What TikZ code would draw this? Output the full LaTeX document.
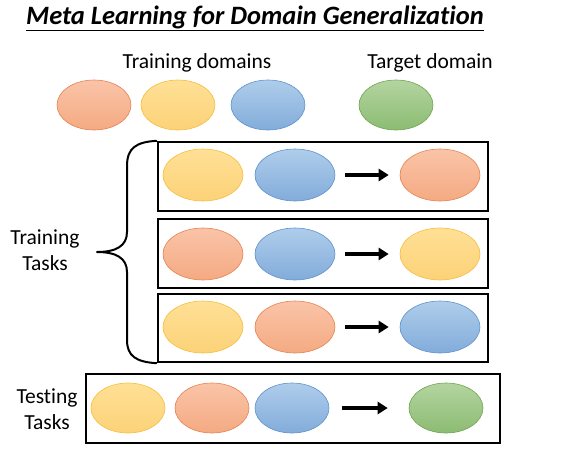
\documentclass[tikz,border=0pt]{standalone}
\usepackage{fontspec}
\setmainfont[Ligatures={NoCommon}]{Carlito}
\usetikzlibrary{shapes.geometric,arrows.meta}
\definecolor{orF1}{RGB}{250,196,168}\definecolor{orF2}{RGB}{244,170,130}\definecolor{orB}{RGB}{230,130,80}
\definecolor{yeF1}{RGB}{255,224,150}\definecolor{yeF2}{RGB}{252,210,120}\definecolor{yeB}{RGB}{245,190,60}
\definecolor{blF1}{RGB}{175,205,235}\definecolor{blF2}{RGB}{130,172,218}\definecolor{blB}{RGB}{95,145,205}
\definecolor{grF1}{RGB}{180,212,160}\definecolor{grF2}{RGB}{140,188,115}\definecolor{grB}{RGB}{110,165,80}
\tikzset{
  dom/.style={ellipse, minimum width=74pt, minimum height=50pt, inner sep=0pt, line width=0.6pt},
  bigdom/.style={dom, minimum width=80pt, minimum height=52pt},
  orD/.style={top color=orF1, bottom color=orF2, draw=orB},
  yeD/.style={top color=yeF1, bottom color=yeF2, draw=yeB},
  blD/.style={top color=blF1, bottom color=blF2, draw=blB},
  grD/.style={top color=grF1, bottom color=grF2, draw=grB},
  taskbox/.style={draw=black, line width=2.4pt, inner sep=0pt},
  arr/.style={-{Triangle[length=10pt,width=12pt]}, line width=3.2pt, shorten <=10pt, shorten >=11pt},
  lbl/.style={font=\fontsize{21.5}{26}\selectfont, align=center},
}
\begin{document}
\begin{tikzpicture}[x=1pt,y=-1pt]
\useasboundingbox (0,0) rectangle (570,450);
% title
\node[font=\fontsize{26.5}{30}\selectfont\bfseries\itshape, anchor=base] (title) at (255,24) {\underline{Meta Learning for Domain Generaliza\kern0pt t\kern0pt ion}};
\node[lbl] (trd) at (197,63) {Training domains};
\node[lbl] (tgd) at (430,63) {Target domain};
% top domains
\node[dom,orD] (o0) at (94,105) {};
\node[dom,yeD] (y0) at (178,105) {};
\node[dom,blD] (b0) at (268,105) {};
\node[dom,grD] (g0) at (396,105) {};
% training task boxes
\node[taskbox, minimum width=330pt, minimum height=69pt] (box1) at (323,176.5) {};
\node[taskbox, minimum width=330pt, minimum height=69pt] (box2) at (323,253.5) {};
\node[taskbox, minimum width=330pt, minimum height=68pt] (box3) at (323,328) {};
% box1
\node[bigdom,yeD] (y1) at (203,175) {};
\node[bigdom,blD] (b1) at (295,175) {};
\node[bigdom,orD] (t1) at (440,175) {};
\draw[arr] (b1.east) -- (t1.west);
% box2
\node[bigdom,orD] (o2) at (203,254) {};
\node[bigdom,blD] (b2) at (295,254) {};
\node[bigdom,yeD] (t2) at (440,254) {};
\draw[arr] (b2.east) -- (t2.west);
% box3
\node[bigdom,yeD] (y3) at (203,327) {};
\node[bigdom,orD] (o3) at (295,327) {};
\node[bigdom,blD] (t3) at (440,327) {};
\draw[arr] (o3.east) -- (t3.west);
% brace
\draw[line width=2pt, line join=round] (box1.north west) .. controls (136,142) and (127,148) .. (127,166) -- (127,232) .. controls (127,246) and (116,252) .. (97,252) .. controls (116,252) and (127,258) .. (127,272) -- (127,340) .. controls (127,356) and (136,362) .. (box3.south west);
\node[lbl] (trt) at (45,250) {Training\\Tasks};
% testing
\node[taskbox, minimum width=414pt, minimum height=69pt] (box4) at (293,408.5) {};
\node[dom,yeD] (y4) at (128,408) {};
\node[dom,orD] (o4) at (212,408) {};
\node[dom,blD] (b4) at (292,408) {};
\node[dom,grD] (g4) at (446,408) {};
\draw[arr, shorten <=13pt, shorten >=21pt] (b4.east) -- (g4.west);
\node[lbl] (tst) at (47,409) {Testing\\Tasks};
\end{tikzpicture}
\end{document}
